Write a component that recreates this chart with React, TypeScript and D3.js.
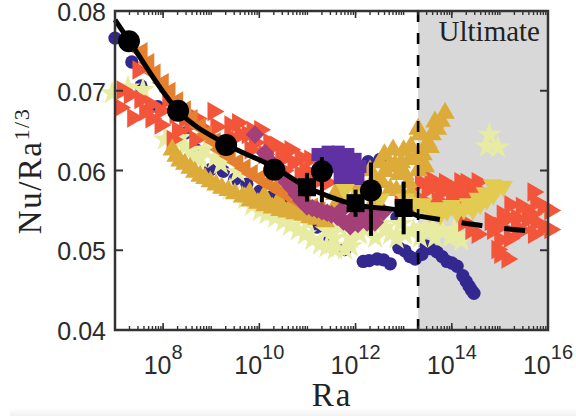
import * as d3 from 'd3';

type Pt = [number, number];

// every point is [log10(Ra), Nu/Ra^(1/3)]
const navyCircles: Pt[] = [
  [7.0, 0.0766], [7.35, 0.0736], [7.54, 0.0706], [7.89, 0.068], [8.46, 0.0647], [8.68, 0.0626], [8.98, 0.0601],
  [9.25, 0.0599], [9.49, 0.0589], [9.74, 0.0583], [10.01, 0.0574], [10.28, 0.0568], [10.58, 0.056], [10.85, 0.0545],
  [11.2, 0.0529], [11.47, 0.0514], [11.78, 0.0501], [12.16, 0.0486], [12.28, 0.0487], [12.45, 0.0489], [12.58, 0.0488],
  [12.72, 0.0483], [12.9, 0.0503], [13.03, 0.0499], [13.13, 0.0492], [13.24, 0.0489], [13.38, 0.0495], [13.47, 0.0505],
  [13.55, 0.0502], [13.69, 0.0498], [13.8, 0.0492], [13.9, 0.0486], [14.0, 0.0484], [14.11, 0.048], [14.23, 0.0468],
  [14.3, 0.0461], [14.36, 0.0455], [14.41, 0.045], [14.46, 0.0446], [12.26, 0.0611], [12.51, 0.0614], [12.86, 0.0541],
];
const paleStars: Pt[] = [
  [6.94, 0.0697], [7.27, 0.0704], [7.58, 0.0701], [8.04, 0.0639], [8.35, 0.0641], [8.56, 0.0626], [8.87, 0.0626],
  [9.08, 0.0616], [8.77, 0.0616], [9.39, 0.0576], [9.7, 0.0564], [10.01, 0.0549], [9.2, 0.0608], [9.55, 0.0598],
  [10.33, 0.0541], [10.64, 0.0531], [10.95, 0.052], [11.26, 0.0507], [11.57, 0.0501], [11.78, 0.0501],
  [12.09, 0.052], [12.41, 0.0516], [12.72, 0.052], [13.03, 0.052], [13.34, 0.0516], [13.65, 0.0516], [13.96, 0.0516],
  [14.13, 0.0519], [11.68, 0.0529], [12.51, 0.0533], [12.93, 0.0533], [13.44, 0.0529], [14.78, 0.0645], [14.73, 0.063],
  [14.96, 0.0629], [8.2, 0.0635], [8.45, 0.063], [8.7, 0.0615],
  [9.85, 0.0556], [10.15, 0.0545], [10.5, 0.0536], [10.8, 0.0525], [11.1, 0.0513], [11.4, 0.0504], [11.0, 0.0535],
  [11.4, 0.0525], [11.9, 0.0515], [12.2, 0.0528], [12.6, 0.0528], [12.85, 0.0515], [13.2, 0.0525], [13.6, 0.0528],
  [13.8, 0.0525], [14.05, 0.0525], [12.0, 0.0535], [12.3, 0.0535], [11.55, 0.0515], [11.9, 0.0505], [14.2, 0.0512],
];
const redTriangles: Pt[] = [
  [7.1, 0.0679], [7.15, 0.0701], [7.48, 0.0726], [7.52, 0.0689], [7.37, 0.0666], [7.62, 0.0674], [7.73, 0.0683],
  [8.1, 0.0689], [8.25, 0.067], [7.94, 0.0657], [8.19, 0.0639], [8.56, 0.0657], [8.66, 0.0639], [8.87, 0.0651],
  [9.04, 0.0674], [9.39, 0.0657], [9.6, 0.0645], [9.29, 0.0632], [10.01, 0.0651], [10.33, 0.0632], [10.64, 0.0626],
  [9.81, 0.0626], [10.85, 0.0616], [10.22, 0.0611], [11.05, 0.0614], [10.85, 0.0595], [11.26, 0.0589], [11.68, 0.0582],
  [11.89, 0.0591], [12.93, 0.057], [13.2, 0.0555], [13.49, 0.0576], [13.55, 0.0589], [13.76, 0.0572], [14.17, 0.0586],
  [14.23, 0.0568], [14.53, 0.0586], [14.38, 0.0574], [14.53, 0.052], [15.0, 0.053], [14.94, 0.0501], [15.15, 0.0489],
  [15.69, 0.0573], [15.9, 0.0555], [15.21, 0.0557], [15.57, 0.0539], [15.36, 0.0522], [15.9, 0.0529], [16.04, 0.055],
  [16.04, 0.0526], [15.0, 0.0513], [14.8, 0.0536], [7.3, 0.0695], [7.75, 0.0665], [7.95, 0.0675], [8.3, 0.065],
  [8.45, 0.0665], [8.7, 0.0665], [9.1, 0.0655], [9.15, 0.0635], [9.4, 0.0642], [9.55, 0.066], [9.75, 0.0645],
  [9.85, 0.065], [10.2, 0.0635], [10.45, 0.0625], [10.5, 0.0615], [10.7, 0.061], [10.95, 0.06], [11.1, 0.0595],
  [11.4, 0.0585], [9.9, 0.0635], [10.1, 0.062], [10.5, 0.06], [13.0, 0.0555], [13.35, 0.0585],
  [13.45, 0.056], [13.65, 0.0585], [13.7, 0.0562], [13.85, 0.0585], [13.95, 0.058], [14.0, 0.0565], [14.1, 0.0572],
  [14.3, 0.0585], [14.55, 0.0575], [14.25, 0.0535], [14.4, 0.0525], [14.85, 0.0525], [15.05, 0.0545], [15.15, 0.054],
  [15.35, 0.054], [15.45, 0.0555], [15.45, 0.0525], [15.2, 0.0515], [15.0, 0.0495], [15.65, 0.0545], [15.75, 0.0535],
  [15.75, 0.056], [15.7, 0.052], [15.6, 0.054],
];
const goldTriangles: Pt[] = [
  [8.19, 0.0626], [8.35, 0.0612], [8.56, 0.0603], [8.77, 0.0593], [8.98, 0.0586], [9.22, 0.0578], [9.49, 0.0571],
  [9.81, 0.0562], [10.12, 0.0556], [10.43, 0.055], [10.74, 0.0546], [11.05, 0.0541], [11.37, 0.0536], [11.57, 0.057],
  [11.78, 0.0558], [11.89, 0.0583], [12.09, 0.0576], [12.41, 0.0564], [12.41, 0.0589], [12.61, 0.0599], [12.72, 0.0576],
  [12.82, 0.0607], [13.03, 0.0595], [13.13, 0.0614], [13.4, 0.062], [13.55, 0.0629], [13.34, 0.0645], [13.59, 0.0645],
  [13.65, 0.0661], [13.86, 0.0672], [12.78, 0.0626], [12.51, 0.061], [13.3, 0.0652], [8.27, 0.0618], [8.45, 0.0608],
  [8.66, 0.0598], [8.87, 0.059], [9.1, 0.0582], [9.35, 0.0575], [9.65, 0.0567], [9.97, 0.0559], [10.27, 0.0553],
  [10.58, 0.0548], [10.9, 0.0544], [11.2, 0.0539], [9.8, 0.0572], [10.1, 0.0568], [10.4, 0.0562], [10.7, 0.0558],
  [11.0, 0.0554], [11.3, 0.055], [11.6, 0.0558], [11.95, 0.0562], [12.2, 0.0575], [12.3, 0.06], [12.55, 0.0585],
  [12.7, 0.0605], [12.6, 0.062], [12.9, 0.0595], [12.95, 0.061], [13.1, 0.0585], [13.0, 0.0625], [13.15, 0.063],
  [13.25, 0.0615], [13.3, 0.06], [13.45, 0.0605], [13.5, 0.0635], [13.7, 0.0652], [13.78, 0.0662], [12.85, 0.0575],
  [13.15, 0.0572], [12.3, 0.058],
];
const magentaDiamonds: Pt[] = [
  [9.91, 0.0645], [10.12, 0.0622], [10.37, 0.0601], [10.58, 0.0585], [10.78, 0.057], [10.99, 0.0555], [11.2, 0.0551],
  [11.41, 0.0547], [11.62, 0.0542], [11.89, 0.053], [12.24, 0.0535], [12.57, 0.0548], [12.41, 0.0545], [10.25, 0.061],
  [10.48, 0.0593], [10.68, 0.0578], [10.88, 0.0562], [11.1, 0.0553], [11.3, 0.0549], [11.5, 0.0545], [11.75, 0.0536],
  [12.05, 0.0533], [11.95, 0.054], [11.7, 0.055], [12.2, 0.0545], [12.4, 0.0535],
];
const orangeTriangles: Pt[] = [
  [7.56, 0.0749], [7.83, 0.0722], [8.14, 0.0699], [8.46, 0.0676], [8.77, 0.0655], [9.08, 0.0636], [9.39, 0.0618],
  [9.7, 0.0603], [10.01, 0.059], [10.33, 0.0579], [10.64, 0.0568], [10.95, 0.0558], [11.26, 0.0549], [7.7, 0.0735],
  [8.0, 0.071], [8.3, 0.0687], [8.6, 0.0665], [8.9, 0.0645], [9.2, 0.0626], [9.55, 0.061], [9.85, 0.0596],
  [10.17, 0.0584], [10.48, 0.0573], [10.8, 0.0562], [11.1, 0.0554],
];
const purpleSquares: Pt[] = [
  [11.22, 0.062], [11.43, 0.0623], [11.64, 0.0623], [11.84, 0.062], [11.99, 0.0614], [12.09, 0.0605], [11.99, 0.0599],
  [11.78, 0.0601], [11.68, 0.0591], [11.37, 0.0607], [11.5, 0.061], [11.6, 0.0605], [11.9, 0.0605], [12.0, 0.059],
  [11.85, 0.059], [11.75, 0.0612], [12.05, 0.0592],
];
const yellowTriangles: Pt[] = [
  [11.78, 0.0576], [12.09, 0.0568], [12.51, 0.0564], [13.03, 0.0564], [13.3, 0.0555], [13.55, 0.0549], [13.76, 0.0545],
  [14.11, 0.0548], [14.44, 0.0551], [14.59, 0.0558], [14.73, 0.0564], [14.86, 0.057], [14.96, 0.0579], [15.07, 0.058],
  [13.4, 0.0558], [13.65, 0.0553], [13.9, 0.055], [14.25, 0.0552], [14.35, 0.0558], [14.55, 0.0565], [14.7, 0.0572],
  [14.85, 0.0582], [13.15, 0.056], [14.0, 0.0556],
];

const fitSolid: Pt[] = [
  [7.0, 0.0789], [7.29, 0.0763], [8.31, 0.0675], [9.31, 0.0633], [10.31, 0.0604], [10.99, 0.0579], [11.47, 0.0567],
  [11.99, 0.0557], [13.01, 0.0549], [13.3, 0.0543],
];
const fitDashed: Pt[] = [[13.3, 0.0543], [14.38, 0.0533], [15.27, 0.0526], [16.0, 0.0523]];

// [log10(Ra), value, low, high]
const blackCircles: number[][] = [
  [7.29, 0.0762, 0.0762, 0.0762], [8.31, 0.0675, 0.0675, 0.0675], [9.31, 0.0632, 0.0632, 0.0632],
  [10.31, 0.0601, 0.0601, 0.0601], [11.3, 0.0599, 0.056, 0.0617], [12.32, 0.0575, 0.0518, 0.061],
];
const blackSquares: number[][] = [
  [10.99, 0.0579, 0.0561, 0.0597], [12.0, 0.0559, 0.0542, 0.0576], [13.0, 0.0553, 0.052, 0.0586],
];

const yTicks = [0.04, 0.05, 0.06, 0.07, 0.08];
const xMajor = [8, 10, 12, 14, 16];
const ultimateFrom = 13.3;

const left = 115, right = 548, top = 11, bottom = 330;
const x = d3.scaleLog().domain([1e7, 1e16]).range([left, right]);
const y = d3.scaleLinear().domain([0.04, 0.08]).range([bottom, top]);
const px = (e: number) => x(Math.pow(10, e));

const xMinor: number[] = [];
d3.range(7, 16).forEach(e => d3.range(1, 10).forEach(m => xMinor.push(m * Math.pow(10, e))));

const sym = (type: d3.SymbolType, size: number) => d3.symbol().type(type).size(size)() as string;

function Marks({ data, d, fill, rot = 0 }: { data: Pt[]; d: string; fill: string; rot?: number }) {
  return (
    <g fill={fill}>
      {data.map((p, i) => (
        <path key={i} d={d} transform={`translate(${px(p[0])},${y(p[1])}) rotate(${rot})`} />
      ))}
    </g>
  );
}

const line = d3.line<Pt>().x(p => px(p[0])).y(p => y(p[1])).curve(d3.curveMonotoneX);

const sans = '"Liberation Sans", Arial, sans-serif';
const serif = '"Liberation Serif", serif';
const ink = '#333333';

export default function App() {
  const tri = sym(d3.symbolTriangle, 165);
  return (
    <svg width={576} height={416} style={{ position: 'absolute', left: 0, top: 0 }}>
      <defs>
        <linearGradient id="fade" x1="0" y1="0" x2="0" y2="1">
          <stop offset="0%" stopColor="#ffffff" />
          <stop offset="100%" stopColor="#f1f1f1" />
        </linearGradient>
      </defs>
      <rect x={10} y={408} width={566} height={8} fill="url(#fade)" />
      <rect x={px(ultimateFrom)} y={top} width={right - px(ultimateFrom)} height={bottom - top} fill="#d8d8d8" />

      <Marks data={navyCircles} d={sym(d3.symbolCircle, 140)} fill="#33288f" />
      <Marks data={paleStars} d={sym(d3.symbolStar, 185)} fill="#e8eba2" />
      <Marks data={redTriangles} d={tri} fill="#f25539" rot={90} />
      <Marks data={goldTriangles} d={tri} fill="#dcab3a" />
      <Marks data={orangeTriangles} d={tri} fill="#e5802f" rot={-90} />
      <Marks data={magentaDiamonds} d={sym(d3.symbolDiamond2, 220)} fill="#a53f78" />
      <Marks data={purpleSquares} d={sym(d3.symbolSquare, 170)} fill="#6031a3" />
      <Marks data={yellowTriangles} d={tri} fill="#e3cb52" rot={180} />

      <line x1={px(ultimateFrom)} x2={px(ultimateFrom)} y1={top} y2={bottom} stroke="#000" strokeWidth={2.6} strokeDasharray="11 11" />

      <path d={line(fitSolid) as string} fill="none" stroke="#000" strokeWidth={5} />
      <path d={line(fitDashed) as string} fill="none" stroke="#000" strokeWidth={5} strokeDasharray="21 22" strokeDashoffset={-1} />

      {blackCircles.concat(blackSquares).filter(p => p[2] !== p[3]).map((p, i) => (
        <line key={i} x1={px(p[0])} x2={px(p[0])} y1={y(p[2])} y2={y(p[3])} stroke="#000" strokeWidth={4} />
      ))}
      {blackCircles.map((p, i) => (
        <circle key={i} cx={px(p[0])} cy={y(p[1])} r={11} fill="#000" />
      ))}
      {blackSquares.map((p, i) => (
        <rect key={i} x={px(p[0]) - 9} y={y(p[1]) - 9} width={18} height={18} fill="#000" />
      ))}

      <text x={540} y={41} textAnchor="end" fontFamily={serif} fontSize={29} fill="#222">Ultimate</text>

      <rect x={left} y={top} width={right - left} height={bottom - top} fill="none" stroke={ink} strokeWidth={2.5} />
      {xMinor.map((v, i) => (
        <g key={i} stroke={ink} strokeWidth={1.4}>
          <line x1={x(v)} x2={x(v)} y1={bottom} y2={bottom - 4} />
          <line x1={x(v)} x2={x(v)} y1={top} y2={top + 4} />
        </g>
      ))}
      {xMajor.map(e => (
        <g key={e} stroke={ink} strokeWidth={1.6}>
          <line x1={px(e)} x2={px(e)} y1={bottom} y2={bottom - 7} />
          <line x1={px(e)} x2={px(e)} y1={top} y2={top + 7} />
        </g>
      ))}
      {yTicks.map(v => (
        <g key={v} stroke={ink} strokeWidth={2}>
          <line x1={left} x2={left + 8} y1={y(v)} y2={y(v)} />
          <line x1={right} x2={right - 8} y1={y(v)} y2={y(v)} />
        </g>
      ))}

      {yTicks.map(v => (
        <text key={v} x={106} y={y(v) + 10} textAnchor="end" fontFamily={sans} fontSize={25} fill="#2b2b2b">
          {v.toFixed(2)}
        </text>
      ))}
      {xMajor.map(e => (
        <text key={e} x={px(e)} y={374} textAnchor="middle" fontFamily={sans} fontSize={25} fill="#2b2b2b">
          10
          <tspan dy={-15} fontSize={20}>{e}</tspan>
        </text>
      ))}

      <text x={332} y={406} textAnchor="middle" fontFamily={serif} fontSize={33} letterSpacing={2} fill="#222">Ra</text>
      <text transform="translate(41,171) rotate(-90)" textAnchor="middle" fontFamily={serif} fontSize={33} letterSpacing={1.5} fill="#222">
        Nu/Ra
        <tspan dy={-12} fontSize={22}>1/3</tspan>
      </text>
    </svg>
  );
}
